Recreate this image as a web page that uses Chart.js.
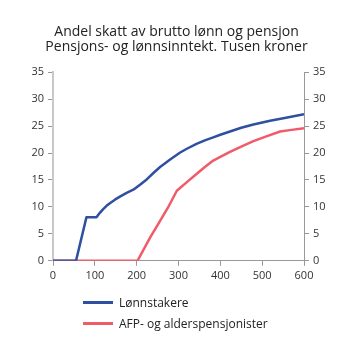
<!DOCTYPE html>
<html>
<head>
<meta charset="utf-8">
<script src="https://cdn.jsdelivr.net/npm/chart.js@4"></script>
<style>
  body { margin: 0; background: #fff; }
  #wrap { position: relative; width: 353px; height: 353px; }
  #legend { position: absolute; left: 83px; top: 292px; font-family: "Open Sans", sans-serif; font-size: 12px; color: #222; }
  .item { display: flex; align-items: center; height: 21px; }
  .swatch { width: 30px; height: 3px; margin-right: 6px; }
</style>
</head>
<body>
<div id="wrap">
  <canvas id="chart" width="353" height="353"></canvas>
  <div id="legend"></div>
</div>
<script>
// Lønnstakere: inntekt (tusen kr) og andel skatt (%)
const wageIncome = [0, 55, 80, 104, 112, 120, 128, 136, 148, 160, 176, 192, 208, 224, 240, 256, 280, 304, 320, 343, 363, 383, 400, 423, 450, 479, 519, 560, 600];
const wageShare  = [0, 0, 8.1, 8.1, 8.9, 9.6, 10.2, 10.7, 11.35, 11.9, 12.6, 13.2, 14.1, 15.1, 16.3, 17.4, 18.8, 20.1, 20.8, 21.7, 22.35, 22.9, 23.4, 24.0, 24.7, 25.3, 26.0, 26.6, 27.2];

// AFP- og alderspensjonister
const pensionIncome = [0, 202, 232, 256, 275, 296, 320, 343, 363, 383, 400, 423, 450, 479, 510, 543, 570, 600];
const pensionShare  = [0, 0, 4.3, 7.4, 9.9, 13.0, 14.6, 16.1, 17.4, 18.6, 19.3, 20.2, 21.2, 22.2, 23.1, 24.0, 24.3, 24.6];

const seriesNames = ['Lønnstakere', 'AFP- og alderspensjonister'];
const seriesColors = ['#2f4fa0', '#ef5b68'];
const titleLines = ['Andel skatt av brutto lønn og pensjon', 'Pensjons- og lønnsinntekt. Tusen kroner'];

function toPoints(xs, ys) {
  return xs.map((x, i) => ({ x: x, y: ys[i] }));
}

const font = { family: '"Open Sans", sans-serif', size: 11 };

new Chart(document.getElementById('chart'), {
  type: 'line',
  data: {
    datasets: [
      { label: seriesNames[0], data: toPoints(wageIncome, wageShare), borderColor: seriesColors[0], borderWidth: 2.5, pointRadius: 0, tension: 0, borderJoinStyle: 'round', yAxisID: 'y' },
      { label: seriesNames[1], data: toPoints(pensionIncome, pensionShare), borderColor: seriesColors[1], borderWidth: 2.5, pointRadius: 0, tension: 0, borderJoinStyle: 'round', yAxisID: 'y' }
    ]
  },
  options: {
    responsive: false,
    animation: false,
    layout: { padding: { bottom: 68, left: 0, right: 0 } },
    plugins: {
      legend: { display: false },
      tooltip: { enabled: false },
      title: {
        display: true,
        text: titleLines,
        color: '#222',
        font: { family: '"Open Sans", sans-serif', size: 14, weight: 'normal', lineHeight: 1.08 },
        padding: { top: 24, bottom: 18 }
      }
    },
    scales: {
      x: {
        type: 'linear', min: 0, max: 600,
        ticks: { stepSize: 50, color: '#333', font: font, maxRotation: 0, padding: 3,
          callback: v => (v % 100 === 0 ? v : '') },
        grid: { drawOnChartArea: false, drawTicks: true, tickLength: 5, color: '#999' },
        border: { color: '#999', width: 1 }
      },
      y: {
        position: 'left', min: 0, max: 35,
        ticks: { stepSize: 5, color: '#333', font: font, padding: 4 },
        grid: { drawOnChartArea: false, drawTicks: true, tickLength: 5, color: '#999' },
        border: { color: '#c8c8c8', width: 2 },
        afterFit: s => { s.width = 53; }
      },
      y2: {
        position: 'right', min: 0, max: 35,
        ticks: { stepSize: 5, color: '#333', font: font, padding: 4 },
        grid: { drawOnChartArea: false, drawTicks: true, tickLength: 5, color: '#999' },
        border: { color: '#999', width: 1 },
        afterFit: s => { s.width = 49; }
      }
    }
  }
});

const legend = document.getElementById('legend');
seriesNames.forEach((name, i) => {
  const item = document.createElement('div');
  item.className = 'item';
  const sw = document.createElement('span');
  sw.className = 'swatch';
  sw.style.background = seriesColors[i];
  const label = document.createElement('span');
  label.textContent = name;
  item.appendChild(sw);
  item.appendChild(label);
  legend.appendChild(item);
});
</script>
</body>
</html>
